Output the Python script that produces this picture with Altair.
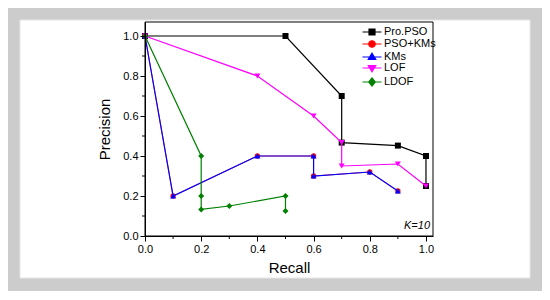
import altair as alt
import pandas as pd

series_names = ["Pro.PSO", "PSO+KMs", "KMs", "LOF", "LDOF"]
series_colors = ["#000000", "#ff0000", "#0000ff", "#ff00ff", "#008000"]
series_shapes = ["square", "circle", "triangle-up", "triangle-down", "diamond"]

recall = {
    "Pro.PSO": [0.0, 0.5, 0.7, 0.7, 0.9, 1.0, 1.0],
    "PSO+KMs": [0.0, 0.1, 0.4, 0.6, 0.6, 0.8, 0.9],
    "KMs":     [0.0, 0.1, 0.4, 0.6, 0.6, 0.8, 0.9],
    "LOF":     [0.0, 0.4, 0.6, 0.7, 0.7, 0.9, 1.0],
    "LDOF":    [0.0, 0.2, 0.2, 0.2, 0.3, 0.5, 0.5],
}
precision = {
    "Pro.PSO": [1.0, 1.0, 0.7, 0.467, 0.452, 0.4, 0.25],
    "PSO+KMs": [1.0, 0.2, 0.4, 0.4, 0.3, 0.32, 0.225],
    "KMs":     [1.0, 0.2, 0.4, 0.4, 0.3, 0.32, 0.225],
    "LOF":     [1.0, 0.8, 0.6, 0.467, 0.35, 0.36, 0.25],
    "LDOF":    [1.0, 0.4, 0.2, 0.133, 0.15, 0.2, 0.125],
}

x_major = [0.0, 0.2, 0.4, 0.6, 0.8, 1.0]
x_minor = [0.1, 0.3, 0.5, 0.7, 0.9]
y_major = [0.0, 0.2, 0.4, 0.6, 0.8, 1.0]
y_minor = [0.1, 0.3, 0.5, 0.7, 0.9]

legend_paths = [
    "M-1.9,0H1.9M-0.6,-0.6H0.6V0.6H-0.6Z",
    "M-1.9,0H1.9M0.65,0A0.65,0.65,0,1,1,-0.65,0A0.65,0.65,0,1,1,0.65,0",
    "M-1.9,0H1.9M0,-0.75L0.75,0.5H-0.75Z",
    "M-1.9,0H1.9M0,0.75L0.75,-0.5H-0.75Z",
    "M-1.9,0H1.9M0,-0.8L0.65,0L0,0.8L-0.65,0Z",
]

W, H = 288, 214
FONT = "Liberation Sans"

rows = []
for s in series_names:
    for i, (r, p) in enumerate(zip(recall[s], precision[s])):
        rows.append({"series": s, "recall": r, "precision": p, "order": i})
df = pd.DataFrame(rows)

xscale = alt.Scale(domain=[0, 1.025], nice=False, zero=False)
yscale = alt.Scale(domain=[0, 1.07], nice=False, zero=False)

major_x_axis = alt.Axis(values=x_major, format=".1f", title="Recall", tickSize=5,
                        grid=False, orient="bottom", zindex=2, titlePadding=6,
                        labelFlush=False, labelOverlap=False)
major_y_axis = alt.Axis(values=y_major, format=".1f", title="Precision", tickSize=5,
                        grid=False, orient="left", zindex=2, titlePadding=10,
                        labelFlush=False, labelOverlap=False)

base_bg = alt.Chart(pd.DataFrame({"a": [0]}))
white_bg = base_bg.mark_rect(fill="white", stroke="#e6e6e6", strokeWidth=1).encode(
    x=alt.value(-125), x2=alt.value(385), y=alt.value(-2), y2=alt.value(256)
)
frame = base_bg.mark_rect(fill="white", fillOpacity=0, stroke="black", strokeWidth=1).encode(
    x=alt.value(0), x2=alt.value(W), y=alt.value(0), y2=alt.value(H)
)

minor_x_ticks = alt.Chart(pd.DataFrame({"v": x_minor})).mark_rule(color="black", strokeWidth=1).encode(
    x=alt.X("v:Q", scale=xscale, axis=None), y=alt.value(H), y2=alt.value(H + 3)
)
minor_y_ticks = alt.Chart(pd.DataFrame({"v": y_minor})).mark_rule(color="black", strokeWidth=1).encode(
    y=alt.Y("v:Q", scale=yscale, axis=None), x=alt.value(0), x2=alt.value(-3)
)

line_widths = {"PSO+KMs": 0.8}
point_sizes = {"PSO+KMs": 28}

layers = [white_bg, minor_x_ticks, minor_y_ticks]
first = True
for s, c, sh in zip(series_names, series_colors, series_shapes):
    sub = alt.Chart(df).transform_filter(alt.datum.series == s)
    xa = major_x_axis if first else None
    ya = major_y_axis if first else None
    line = sub.mark_line(color=c, strokeWidth=line_widths.get(s, 1.2)).encode(
        x=alt.X("recall:Q", scale=xscale, axis=xa),
        y=alt.Y("precision:Q", scale=yscale, axis=ya),
        order="order:Q",
    )
    pts = sub.mark_point(shape=sh, color=c, filled=True, opacity=1, size=point_sizes.get(s, 36)).encode(
        x=alt.X("recall:Q", scale=xscale, axis=None),
        y=alt.Y("precision:Q", scale=yscale, axis=None),
    )
    layers += [line, pts]
    first = False

legend_layer = alt.Chart(df).transform_filter("false").mark_point(
    filled=True, opacity=1
).encode(
    x=alt.X("recall:Q", scale=xscale, axis=None),
    y=alt.Y("precision:Q", scale=yscale, axis=None),
    fill=alt.Fill("series:N", scale=alt.Scale(domain=series_names, range=series_colors), title=None,
                  legend=alt.Legend(orient="none", legendX=221, legendY=4, symbolSize=100,
                                    symbolStrokeWidth=1.2, labelFontSize=11, labelFont=FONT,
                                    labelOffset=6, rowPadding=0, padding=0, labelColor="black",
                                    labelLimit=200)),
    stroke=alt.Stroke("series:N", scale=alt.Scale(domain=series_names, range=series_colors), title=None),
    shape=alt.Shape("series:N", scale=alt.Scale(domain=series_names, range=legend_paths), title=None),
)

ktext = base_bg.mark_text(text="K=10", font=FONT, fontSize=11, fontStyle="italic",
                          align="right", baseline="middle", color="black").encode(
    x=alt.value(285), y=alt.value(204)
)

layers += [legend_layer, frame, ktext]

chart = alt.layer(*layers).resolve_axis(x="independent", y="independent").properties(
    width=W, height=H,
    autosize=alt.AutoSizeParams(type="none"),
    padding={"left": 137, "top": 14, "right": 109, "bottom": 55},
    background="#cccccc",
).configure_view(stroke=None).configure_axis(
    labelFont=FONT, titleFont=FONT, labelFontSize=11, titleFontSize=15,
    titleFontWeight="normal", labelColor="black", titleColor="black",
    domainColor="black", tickColor="black",
)

chart.save("out.html", embed_options={"renderer": "svg", "actions": False})
